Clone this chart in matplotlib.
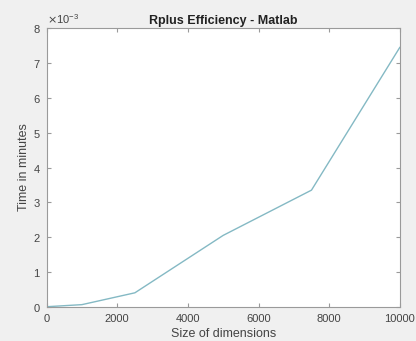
"""
    Rplus efficiency timing plot, styled after a MATLAB figure window.
"""

import numpy as np
from matplotlib import pyplot as plt
from matplotlib import ticker

# dimension sizes and measured run times (minutes)
sizes = [0, 1000, 2500, 5000, 7500, 10000]
times = [0.0, 0.00006, 0.0004, 0.00205, 0.00335, 0.00745]

xticks = [0, 2000, 4000, 6000, 8000, 10000]
yticks = [0, 0.001, 0.002, 0.003, 0.004, 0.005, 0.006, 0.007, 0.008]

plt.rcParams['font.family'] = ['Liberation Sans', 'DejaVu Sans']

fig = plt.figure(figsize=(4.16, 3.41), dpi=100)
fig.patch.set_facecolor('#f0f0f0')
ax = fig.add_axes([0.112, 0.1005, 0.849, 0.8165])
ax.set_facecolor('white')

ax.plot(sizes, times, color='#84b9c4', linewidth=1.0)

ax.set_xlim(0, 10000)
ax.set_ylim(0, 0.008)
ax.set_xticks(xticks)
ax.set_yticks(yticks)

fmt = ticker.ScalarFormatter(useMathText=True)
fmt.set_powerlimits((-2, 2))
ax.yaxis.set_major_formatter(fmt)
ax.yaxis.get_offset_text().set_fontsize(8)
ax.yaxis.get_offset_text().set_color('#555555')

for side in ['top', 'bottom', 'left', 'right']:
    ax.spines[side].set_color('#9a9a9a')
    ax.spines[side].set_linewidth(0.8)

ax.tick_params(direction='in', top=True, right=True, length=3,
               color='#9a9a9a', labelsize=8, labelcolor='#444444')
ax.tick_params(axis='x', pad=5)
ax.tick_params(axis='y', pad=4)

ax.set_xlabel('Size of dimensions', fontsize=9, color='#444444', labelpad=3)
ax.set_ylabel('Time in minutes', fontsize=9, color='#444444', labelpad=2)
ax.set_title('Rplus Efficiency - Matlab', fontsize=9, fontweight='bold',
             color='#222222', pad=3)

fig.savefig('out.png', dpi=100, facecolor=fig.get_facecolor())
